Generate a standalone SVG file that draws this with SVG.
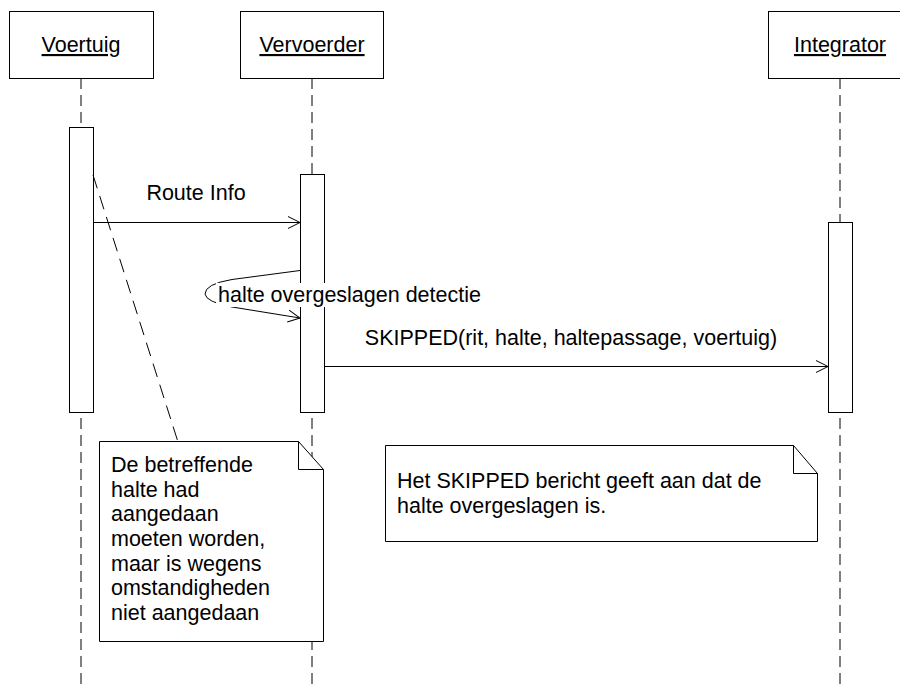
<svg xmlns="http://www.w3.org/2000/svg" width="900" height="689" viewBox="0 0 900 689">
<style>
.box{fill:#fff;stroke:#000;stroke-width:1}
.life{stroke:#000;stroke-width:1;stroke-dasharray:11,6;fill:none}
.msg{stroke:#000;stroke-width:1;fill:none}
.t{font-family:"Liberation Sans",Arial,sans-serif;font-size:21.5px;fill:#000}
.u{text-decoration:underline}
</style>
<defs>
<marker id="open" markerWidth="14" markerHeight="14" refX="13" refY="7" orient="auto" markerUnits="userSpaceOnUse">
<path d="M1,1 L13,7 L1,13" fill="none" stroke="#000" stroke-width="1"/>
</marker>
</defs>
<rect width="900" height="689" fill="#fff"/>
<g id="lifelines">
<line class="life" x1="81" y1="78" x2="81" y2="689"/>
<line class="life" x1="312" y1="78" x2="312" y2="689"/>
<line class="life" x1="840" y1="78" x2="840" y2="689"/>
</g>
<g id="voertuig">
<rect class="box" x="9.5" y="11.5" width="144" height="67"/>
<text class="t u" x="81" y="52" text-anchor="middle">Voertuig</text>
<rect class="box" x="69.5" y="127.5" width="24" height="285"/>
</g>
<g id="vervoerder">
<rect class="box" x="240.5" y="11.5" width="143" height="67"/>
<text class="t u" x="312" y="52" text-anchor="middle">Vervoerder</text>
<rect class="box" x="300.5" y="174.5" width="24" height="238"/>
</g>
<g id="integrator">
<rect class="box" x="768.5" y="11.5" width="140" height="67"/>
<text class="t u" x="840" y="52" text-anchor="middle">Integrator</text>
<rect class="box" x="828.5" y="222.5" width="24" height="190"/>
</g>
<g id="connectors">
<line class="msg" x1="94" y1="222.5" x2="300" y2="222.5" marker-end="url(#open)"/>
<text class="t" x="196" y="200" text-anchor="middle">Route Info</text>
<path class="msg" d="M300,270.5 L232,279.5 Q205,284 205,294 Q206,302 232,307 L300,318" marker-end="url(#open)"/>
<rect x="216" y="283" width="272" height="24" fill="#fff"/>
<text class="t" x="218" y="302">halte overgeslagen detectie</text>
<line class="msg" x1="325" y1="366.5" x2="828" y2="366.5" marker-end="url(#open)"/>
<text class="t" x="571" y="345" text-anchor="middle">SKIPPED(rit, halte, haltepassage, voertuig)</text>
<line class="msg" x1="93" y1="175" x2="178" y2="442" stroke-dasharray="14,8"/>
</g>
<g id="note1">
<path class="box" d="M99.5,441.5 L298.5,441.5 L323.5,469.5 L323.5,641.5 L99.5,641.5 Z"/>
<path class="msg" d="M298.5,441.5 L298.5,469.5 L323.5,469.5"/>
<text class="t" x="111" y="472">De betreffende</text>
<text class="t" x="111" y="497">halte had</text>
<text class="t" x="111" y="521">aangedaan</text>
<text class="t" x="111" y="546">moeten worden,</text>
<text class="t" x="111" y="571">maar is wegens</text>
<text class="t" x="111" y="595">omstandigheden</text>
<text class="t" x="111" y="620">niet aangedaan</text>
</g>
<g id="note2">
<path class="box" d="M385.5,445.5 L793.5,445.5 L817.5,473.5 L817.5,541.5 L385.5,541.5 Z"/>
<path class="msg" d="M793.5,445.5 L793.5,473.5 L817.5,473.5"/>
<text class="t" x="397" y="488">Het SKIPPED bericht geeft aan dat de</text>
<text class="t" x="397" y="513">halte overgeslagen is.</text>
</g>
</svg>
